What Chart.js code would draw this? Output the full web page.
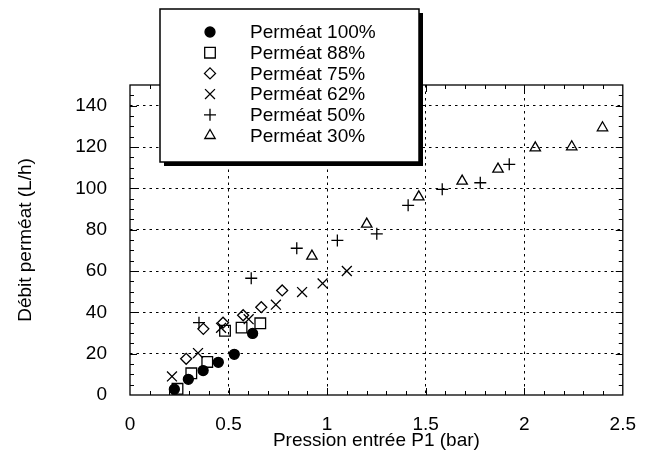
<!DOCTYPE html>
<html><head><meta charset="utf-8">
<script src="https://cdn.jsdelivr.net/npm/chart.js@4/dist/chart.umd.min.js"></script>
<style>html,body{margin:0;padding:0;background:#fff}#wrap{width:654px;height:455px;position:relative}</style>
</head><body><div id="wrap"><canvas id="c" width="654" height="455"></canvas></div>
<script>
const seriesNames = ['Perméat 100%', 'Perméat 88%', 'Perméat 75%', 'Perméat 62%', 'Perméat 50%', 'Perméat 30%'];
const p100X = [0.225, 0.296, 0.371, 0.448, 0.529, 0.622];
const p100Y = [2.8, 7.6, 11.8, 15.8, 19.7, 29.8];
const p88X = [0.241, 0.311, 0.392, 0.482, 0.566, 0.661];
const p88Y = [3.0, 10.5, 16.0, 31.1, 32.6, 34.7];
const p75X = [0.285, 0.372, 0.472, 0.574, 0.666, 0.772];
const p75Y = [17.5, 32.0, 35.0, 38.6, 42.5, 50.6];
const p62X = [0.213, 0.345, 0.462, 0.602, 0.74, 0.873, 0.977, 1.10];
const p62Y = [9.0, 20.3, 32.5, 36.7, 43.7, 49.8, 54.0, 60.0];
const p50X = [0.35, 0.615, 0.846, 1.052, 1.252, 1.411, 1.584, 1.777, 1.924];
const p50Y = [35.0, 56.5, 71.0, 74.8, 78.0, 91.8, 99.5, 102.7, 111.6];
const p30X = [0.923, 1.201, 1.465, 1.685, 1.867, 2.056, 2.241, 2.397];
const p30Y = [67.2, 82.7, 95.9, 103.5, 109.3, 119.6, 120.1, 129.3];
const xTicks = [0, 0.5, 1, 1.5, 2, 2.5];
const yTicks = [0, 20, 40, 60, 80, 100, 120, 140];

const FONT = 'Liberation Sans';
const font = {family: FONT, size: 19};
Chart.defaults.font.family = FONT;

function pts(xs, ys) { return xs.map((v, i) => ({x: v, y: ys[i]})); }
const styles = [
  {pointStyle: 'circle', radius: 5, backgroundColor: '#000'},
  {pointStyle: 'rect', radius: 7.5, backgroundColor: 'rgba(0,0,0,0)'},
  {pointStyle: 'rectRot', radius: 5.5, backgroundColor: 'rgba(0,0,0,0)'},
  {pointStyle: 'crossRot', radius: 7, backgroundColor: 'rgba(0,0,0,0)'},
  {pointStyle: 'cross', radius: 6, backgroundColor: 'rgba(0,0,0,0)'},
  {pointStyle: 'triangle', radius: 6, backgroundColor: 'rgba(0,0,0,0)'}
];
const seriesData = [pts(p100X, p100Y), pts(p88X, p88Y), pts(p75X, p75Y), pts(p62X, p62Y), pts(p50X, p50Y), pts(p30X, p30Y)];
const datasets = seriesNames.map((n, i) => ({
  label: n, data: seriesData[i],
  pointStyle: styles[i].pointStyle, pointRadius: styles[i].radius,
  pointBackgroundColor: styles[i].backgroundColor, pointBorderColor: '#000', pointBorderWidth: 1.3,
  showLine: false
}));

function drawMarker(ctx, i, x, y) {
  const s = styles[i];
  ctx.save();
  ctx.fillStyle = s.backgroundColor; ctx.strokeStyle = '#000'; ctx.lineWidth = 1.3;
  if (Chart.helpers && Chart.helpers.drawPoint) {
    Chart.helpers.drawPoint(ctx, {pointStyle: s.pointStyle, radius: s.radius, borderWidth: 1.3, rotation: 0}, x, y);
  }
  ctx.restore();
}

const framePlugin = {
  id: 'frame',
  afterDraw(chart) {
    const {ctx, chartArea: a, scales: {x, y}} = chart;
    ctx.save();
    ctx.setLineDash([]);
    ctx.strokeStyle = '#000';
    ctx.lineWidth = 1.3;
    ctx.strokeRect(a.left, a.top, a.right - a.left, a.bottom - a.top);
    ctx.lineWidth = 1;
    ctx.beginPath();
    for (let i = 1; i < 25; i++) {
      const px = Math.round(x.getPixelForValue(i / 10)) + 0.5;
      const len = i % 5 === 0 ? 7 : 4;
      ctx.moveTo(px, a.bottom); ctx.lineTo(px, a.bottom - len);
      ctx.moveTo(px, a.top); ctx.lineTo(px, a.top + len);
    }
    for (let i = 1; i < 30; i++) {
      const py = Math.round(y.getPixelForValue(i * 5)) + 0.5;
      const len = i % 4 === 0 ? 7 : 4;
      ctx.moveTo(a.left, py); ctx.lineTo(a.left + len, py);
      ctx.moveTo(a.right, py); ctx.lineTo(a.right - len, py);
    }
    ctx.stroke();
    const L = 160, T = 9, R = 419, B = 162;
    ctx.fillStyle = '#000';
    ctx.fillRect(L + 4, T + 4, R - L, B - T);
    ctx.fillStyle = '#fff';
    ctx.fillRect(L, T, R - L, B - T);
    ctx.lineWidth = 1.5;
    ctx.strokeRect(L, T, R - L, B - T);
    ctx.font = '19px "' + FONT + '"';
    ctx.textBaseline = 'middle';
    ctx.textAlign = 'left';
    seriesNames.forEach((n, i) => {
      const ry = 32 + i * 20.7;
      drawMarker(ctx, i, 210, ry);
      ctx.fillStyle = '#000';
      ctx.fillText(n, 250, ry + 1);
    });
    ctx.restore();
  }
};

new Chart(document.getElementById('c'), {
  type: 'scatter',
  data: {datasets},
  plugins: [framePlugin],
  options: {
    responsive: false, animation: false, devicePixelRatio: 1,
    layout: {padding: {top: 85, right: 18, left: 0, bottom: 0}},
    plugins: {legend: {display: false}, tooltip: {enabled: false}},
    scales: {
      x: {
        type: 'linear', min: 0, max: 2.5,
        afterBuildTicks: s => { s.ticks = xTicks.map(v => ({value: v})); },
        afterFit: s => { s.height = 60; },
        ticks: {font, color: '#000', padding: 18, maxRotation: 0, autoSkip: false, callback: v => String(v)},
        grid: {color: c => (c.tick && (c.tick.value === 0 || c.tick.value === 2.5)) ? 'rgba(0,0,0,0)' : '#000', lineWidth: 1, drawTicks: false},
        border: {display: false, dash: [2.5, 4]},
        title: {display: true, text: 'Pression entrée P1 (bar)', font, color: '#000', padding: {top: 0, bottom: 3}}
      },
      y: {
        type: 'linear', min: 0, max: 150,
        afterBuildTicks: s => { s.ticks = yTicks.map(v => ({value: v})); },
        afterFit: s => { s.width = 130; },
        ticks: {font, color: '#000', padding: 23},
        grid: {color: c => (c.tick && c.tick.value === 0) ? 'rgba(0,0,0,0)' : '#000', lineWidth: 1, drawTicks: false},
        border: {display: false, dash: [2.5, 4]},
        title: {display: true, text: 'Débit perméat (L/h)', font, color: '#000', padding: {top: 14, bottom: 0}}
      }
    }
  }
});
</script></body></html>
